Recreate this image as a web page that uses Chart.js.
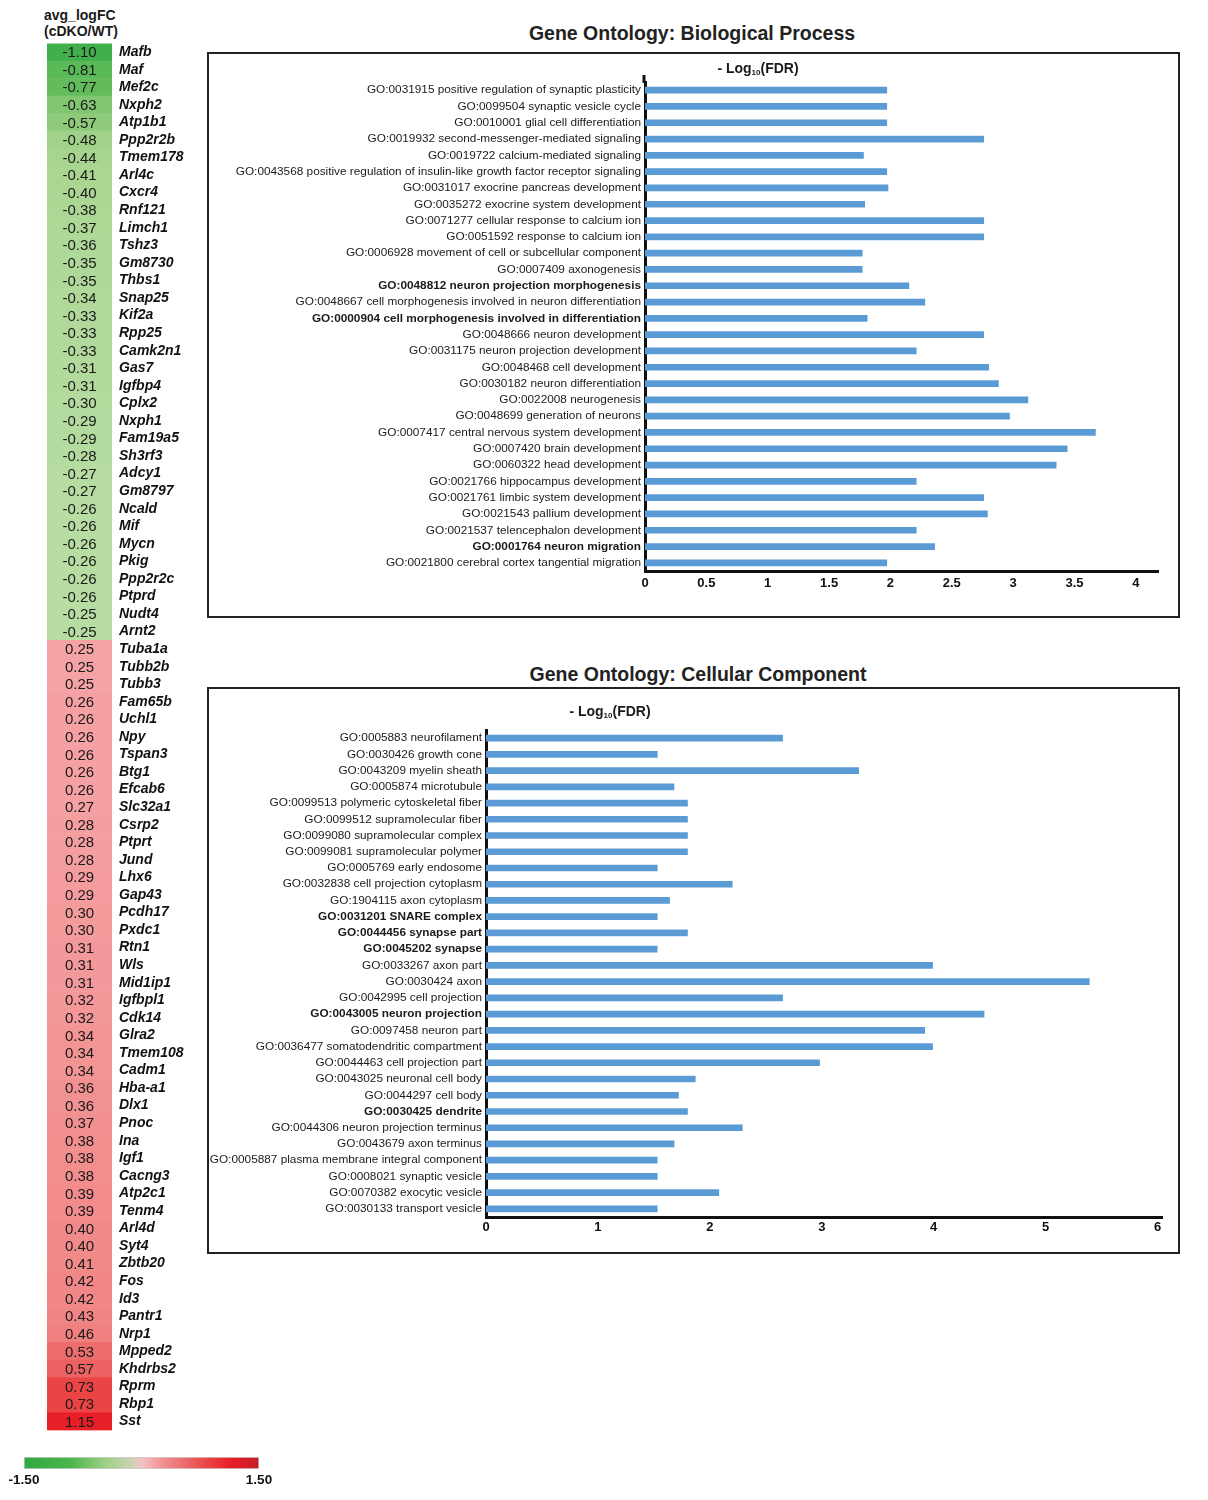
<!DOCTYPE html>
<html>
<head>
<meta charset="utf-8">
<script src="https://cdn.jsdelivr.net/npm/chart.js@4.4.1/dist/chart.umd.min.js"></script>
<style>
  body { margin: 0; background: #fff; font-family: Arial, "Liberation Sans", sans-serif; color: #1a1a1a; }
  #page { position: relative; width: 1208px; height: 1500px; }
  .abs { position: absolute; }
  .hdr { font-weight: bold; font-size: 14px; line-height: 16px; }
  .title { font-weight: bold; font-size: 19.5px; line-height: 22px; transform: translateX(-50%); white-space: nowrap; color: #222; }
  .axtitle { font-weight: bold; font-size: 14px; line-height: 16px; transform: translateX(-50%); white-space: nowrap; }
  .axtitle sub { font-size: 8px; vertical-align: -2px; }
  .box { border: 2px solid #222; box-sizing: border-box; }
</style>
</head>
<body>
<div id="page">
  <div class="abs hdr" style="left:44px; top:7px;">avg_logFC<br>(cDKO/WT)</div>
  <!-- the category axis adds ~15px above and below the cells -->
  <div class="abs" style="left:47px; top:27.6px; width:145px; height:1417.8px;"><canvas id="heat"></canvas></div>
  <div class="abs" style="left:0; top:1450px; width:290px; height:40px;"><canvas id="cbar"></canvas></div>

  <div class="abs title" style="left:692px; top:22px;">Gene Ontology: Biological Process</div>
  <div class="abs box" style="left:207px; top:52px; width:973px; height:566px;"></div>
  <div class="abs" style="left:209px; top:54px; width:969px; height:562px;"><canvas id="bp"></canvas></div>
  <div class="abs axtitle" style="left:758px; top:60px;">- Log<sub>10</sub>(FDR)</div>

  <div class="abs title" style="left:698px; top:663px;">Gene Ontology: Cellular Component</div>
  <div class="abs box" style="left:207px; top:687px; width:973px; height:567px;"></div>
  <div class="abs" style="left:209px; top:689px; width:969px; height:563px;"><canvas id="cc"></canvas></div>
  <div class="abs axtitle" style="left:610px; top:703px;">- Log<sub>10</sub>(FDR)</div>
</div>
<script>
// heatmap data
const genes = ['Mafb','Maf','Mef2c','Nxph2','Atp1b1','Ppp2r2b','Tmem178','Arl4c','Cxcr4','Rnf121',
  'Limch1','Tshz3','Gm8730','Thbs1','Snap25','Kif2a','Rpp25','Camk2n1','Gas7','Igfbp4',
  'Cplx2','Nxph1','Fam19a5','Sh3rf3','Adcy1','Gm8797','Ncald','Mif','Mycn','Pkig',
  'Ppp2r2c','Ptprd','Nudt4','Arnt2',
  'Tuba1a','Tubb2b','Tubb3','Fam65b','Uchl1','Npy','Tspan3','Btg1','Efcab6','Slc32a1',
  'Csrp2','Ptprt','Jund','Lhx6','Gap43','Pcdh17','Pxdc1','Rtn1','Wls','Mid1ip1',
  'Igfbpl1','Cdk14','Glra2','Tmem108','Cadm1','Hba-a1','Dlx1','Pnoc','Ina','Igf1',
  'Cacng3','Atp2c1','Tenm4','Arl4d','Syt4','Zbtb20','Fos','Id3','Pantr1','Nrp1',
  'Mpped2','Khdrbs2','Rprm','Rbp1','Sst'];
const logFC = [-1.10,-0.81,-0.77,-0.63,-0.57,-0.48,-0.44,-0.41,-0.40,-0.38,
  -0.37,-0.36,-0.35,-0.35,-0.34,-0.33,-0.33,-0.33,-0.31,-0.31,
  -0.30,-0.29,-0.29,-0.28,-0.27,-0.27,-0.26,-0.26,-0.26,-0.26,
  -0.26,-0.26,-0.25,-0.25,
  0.25,0.25,0.25,0.26,0.26,0.26,0.26,0.26,0.26,0.27,
  0.28,0.28,0.28,0.29,0.29,0.30,0.30,0.31,0.31,0.31,
  0.32,0.32,0.34,0.34,0.34,0.36,0.36,0.37,0.38,0.38,
  0.38,0.39,0.39,0.40,0.40,0.41,0.42,0.42,0.43,0.46,
  0.53,0.57,0.73,0.73,1.15];
const scaleRange = [-1.5, 1.5];
const scaleTicks = [-1.5, 1.5];

// GO: biological process
const bpTerms = [
  'GO:0031915 positive regulation of synaptic plasticity',
  'GO:0099504 synaptic vesicle cycle',
  'GO:0010001 glial cell differentiation',
  'GO:0019932 second-messenger-mediated signaling',
  'GO:0019722 calcium-mediated signaling',
  'GO:0043568 positive regulation of insulin-like growth factor receptor signaling',
  'GO:0031017 exocrine pancreas development',
  'GO:0035272 exocrine system development',
  'GO:0071277 cellular response to calcium ion',
  'GO:0051592 response to calcium ion',
  'GO:0006928 movement of cell or subcellular component',
  'GO:0007409 axonogenesis',
  'GO:0048812 neuron projection morphogenesis',
  'GO:0048667 cell morphogenesis involved in neuron differentiation',
  'GO:0000904 cell morphogenesis involved in differentiation',
  'GO:0048666 neuron development',
  'GO:0031175 neuron projection development',
  'GO:0048468 cell development',
  'GO:0030182 neuron differentiation',
  'GO:0022008 neurogenesis',
  'GO:0048699 generation of neurons',
  'GO:0007417 central nervous system development',
  'GO:0007420 brain development',
  'GO:0060322 head development',
  'GO:0021766 hippocampus development',
  'GO:0021761 limbic system development',
  'GO:0021543 pallium development',
  'GO:0021537 telencephalon development',
  'GO:0001764 neuron migration',
  'GO:0021800 cerebral cortex tangential migration'];
const bpValues = [1.97,1.97,1.97,2.76,1.78,1.97,1.98,1.79,2.76,2.76,
  1.77,1.77,2.15,2.28,1.81,2.76,2.21,2.80,2.88,3.12,
  2.97,3.67,3.44,3.35,2.21,2.76,2.79,2.21,2.36,1.97];
const bpTicks = [0,0.5,1,1.5,2,2.5,3,3.5,4];
const bpBold = ['GO:0048812','GO:0000904','GO:0001764'];

// GO: cellular component
const ccTerms = [
  'GO:0005883 neurofilament',
  'GO:0030426 growth cone',
  'GO:0043209 myelin sheath',
  'GO:0005874 microtubule',
  'GO:0099513 polymeric cytoskeletal fiber',
  'GO:0099512 supramolecular fiber',
  'GO:0099080 supramolecular complex',
  'GO:0099081 supramolecular polymer',
  'GO:0005769 early endosome',
  'GO:0032838 cell projection cytoplasm',
  'GO:1904115 axon cytoplasm',
  'GO:0031201 SNARE complex',
  'GO:0044456 synapse part',
  'GO:0045202 synapse',
  'GO:0033267 axon part',
  'GO:0030424 axon',
  'GO:0042995 cell projection',
  'GO:0043005 neuron projection',
  'GO:0097458 neuron part',
  'GO:0036477 somatodendritic compartment',
  'GO:0044463 cell projection part',
  'GO:0043025 neuronal cell body',
  'GO:0044297 cell body',
  'GO:0030425 dendrite',
  'GO:0044306 neuron projection terminus',
  'GO:0043679 axon terminus',
  'GO:0005887 plasma membrane integral component',
  'GO:0008021 synaptic vesicle',
  'GO:0070382 exocytic vesicle',
  'GO:0030133 transport vesicle'];
const ccValues = [2.65,1.53,3.33,1.68,1.80,1.80,1.80,1.80,1.53,2.20,
  1.64,1.53,1.80,1.53,3.99,5.39,2.65,4.45,3.92,3.99,
  2.98,1.87,1.72,1.80,2.29,1.68,1.53,1.53,2.08,1.53];
const ccTicks = [0,1,2,3,4,5,6];
const ccBold = ['GO:0031201','GO:0044456','GO:0045202','GO:0043005','GO:0030425'];

// colours
const cellStops = [
  [-1.2, [56,172,72]], [-0.8, [92,186,88]], [-0.6, [136,200,116]], [-0.45, [166,212,142]],
  [-0.25, [184,221,163]], [0, [240,236,220]], [0.25, [245,163,165]], [0.45, [240,130,130]],
  [0.55, [236,102,102]], [0.73, [234,68,68]], [1.15, [230,32,38]]];
const barStops = [
  [0, '#2ea941'], [0.2, '#4db54a'], [0.35, '#9fd088'], [0.47, '#d3d2b6'], [0.5, '#f5c2c6'],
  [0.6, '#f08c8e'], [0.78, '#ea4446'], [0.88, '#e81d27'], [1, '#c1202c']];

function cellColor(v) {
  if (v <= cellStops[0][0]) return 'rgb(' + cellStops[0][1].join(',') + ')';
  for (let i = 1; i < cellStops.length; i++) {
    const [v1, c1] = cellStops[i];
    const [v0, c0] = cellStops[i - 1];
    if (v <= v1) {
      const t = (v - v0) / (v1 - v0);
      const c = c0.map((x, k) => Math.round(x + (c1[k] - x) * t));
      return 'rgb(' + c.join(',') + ')';
    }
  }
  return 'rgb(' + cellStops[cellStops.length - 1][1].join(',') + ')';
}

Chart.defaults.font.family = 'Arial, "Liberation Sans", sans-serif';
Chart.defaults.color = '#1a1a1a';
Chart.defaults.animation = false;

// value labels inside the heatmap cells
const cellText = {
  id: 'cellText',
  afterDatasetsDraw(chart) {
    const ctx = chart.ctx;
    const area = chart.chartArea;
    const y = chart.scales.y;
    ctx.save();
    ctx.font = '15px Arial, "Liberation Sans", sans-serif';
    ctx.fillStyle = '#1a1a1a';
    ctx.textAlign = 'center';
    ctx.textBaseline = 'middle';
    logFC.forEach((v, i) => {
      ctx.fillText(v.toFixed(2), (area.left + area.right) / 2, y.getPixelForValue(i) + 1);
    });
    ctx.restore();
  }
};

new Chart(document.getElementById('heat'), {
  type: 'bar',
  data: {
    labels: genes,
    datasets: [{
      data: genes.map(() => 1),
      backgroundColor: logFC.map(cellColor),
      borderWidth: 0,
      barPercentage: 1,
      categoryPercentage: 1
    }]
  },
  options: {
    indexAxis: 'y',
    responsive: true,
    maintainAspectRatio: false,
    layout: { padding: 0 },
    plugins: { legend: { display: false }, tooltip: { enabled: false } },
    scales: {
      x: { display: false, min: 0, max: 1 },
      y: {
        position: 'right',
        afterFit: (s) => { s.width = 80; },
        grid: { display: false, drawTicks: false },
        border: { display: false },
        ticks: { autoSkip: false, padding: 7, color: '#111',
          font: { size: 14, weight: 'bold', style: 'italic' } }
      }
    }
  },
  plugins: [cellText]
});

// colour scale bar
new Chart(document.getElementById('cbar'), {
  type: 'bar',
  data: {
    labels: [''],
    datasets: [{
      data: [scaleRange],
      backgroundColor: (c) => {
        const area = c.chart.chartArea;
        if (!area) return '#ccc';
        const g = c.chart.ctx.createLinearGradient(area.left, 0, area.right, 0);
        barStops.forEach(([p, col]) => g.addColorStop(p, col));
        return g;
      },
      borderColor: '#cfcfcf',
      borderWidth: 1,
      borderSkipped: false,
      barPercentage: 1,
      categoryPercentage: 1
    }]
  },
  options: {
    indexAxis: 'y',
    responsive: true,
    maintainAspectRatio: false,
    layout: { padding: { left: 24, right: 31, top: 7 } },
    plugins: { legend: { display: false }, tooltip: { enabled: false } },
    scales: {
      y: { display: false },
      x: {
        min: scaleRange[0], max: scaleRange[1],
        afterBuildTicks: (s) => { s.ticks = scaleTicks.map(v => ({ value: v })); },
        afterFit: (s) => { s.height = 21; },
        grid: { display: false, drawTicks: false },
        border: { display: false },
        ticks: { padding: 3, color: '#111', font: { size: 13.5, weight: 'bold' },
          callback: (v) => Number(v).toFixed(2) }
      }
    }
  }
});

// short extension of the category axis above the plot
const axisExtend = {
  id: 'axisExtend',
  afterDraw(chart, args, opts) {
    if (!opts.top) return;
    const ctx = chart.ctx;
    const a = chart.chartArea;
    ctx.save();
    ctx.strokeStyle = '#111';
    ctx.lineWidth = 3;
    ctx.beginPath();
    ctx.moveTo(a.left - 1, a.top - opts.top);
    ctx.lineTo(a.left - 1, a.top + 1);
    ctx.stroke();
    ctx.restore();
  }
};

function goChart(id, terms, values, ticks, bold, cfg) {
  return new Chart(document.getElementById(id), {
    type: 'bar',
    data: {
      labels: terms,
      datasets: [{
        data: values,
        backgroundColor: '#5b9bd5',
        borderWidth: 0,
        barThickness: 6
      }]
    },
    options: {
      indexAxis: 'y',
      responsive: true,
      maintainAspectRatio: false,
      layout: { padding: { top: cfg.padTop, right: cfg.padRight, left: 0, bottom: 0 } },
      plugins: { legend: { display: false }, tooltip: { enabled: false }, axisExtend: { top: cfg.extend } },
      scales: {
        x: {
          min: 0, max: cfg.max,
          afterBuildTicks: (s) => { s.ticks = ticks.map(v => ({ value: v })); },
          afterFit: (s) => { s.height = cfg.xHeight; },
          grid: { display: false, drawTicks: false },
          border: { display: true, color: '#111', width: 3 },
          ticks: { padding: cfg.xPad, color: '#111', font: { size: 13, weight: 'bold' },
            callback: (v) => String(v) }
        },
        y: {
          afterFit: (s) => { s.width = cfg.yWidth; },
          grid: { display: false, drawTicks: false },
          border: { display: true, color: '#111', width: 3 },
          ticks: {
            autoSkip: false, padding: 4, color: '#1a1a1a',
            font: (c) => ({ size: 11.8,
              weight: bold.some(b => String(terms[c.index]).startsWith(b)) ? 'bold' : 'normal' })
          }
        }
      }
    },
    plugins: [axisExtend]
  });
}

goChart('bp', bpTerms, bpValues, bpTicks, bpBold,
  { max: 4.18, padTop: 28, padRight: 20, xHeight: 45, yWidth: 436, xPad: 5, extend: 7 });
goChart('cc', ccTerms, ccValues, ccTicks, ccBold,
  { max: 6.04, padTop: 41, padRight: 16, xHeight: 35, yWidth: 277, xPad: 3, extend: 0 });
</script>
</body>
</html>
